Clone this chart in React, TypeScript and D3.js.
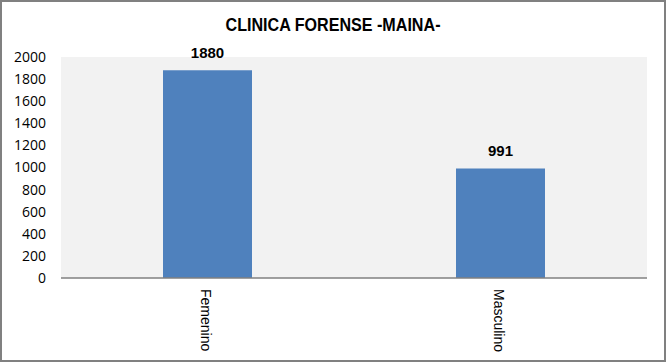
import React from "react";
import * as d3 from "d3";

const categories = ["Femenino", "Masculino"];
const values = [1880, 991];
const yTicks = [0, 200, 400, 600, 800, 1000, 1200, 1400, 1600, 1800, 2000];
const title = "CLINICA FORENSE -MAINA-";

export default function App() {
  const W = 666, H = 362;
  const left = 61, right = 647, top = 57, bottom = 278;
  const x = d3.scaleBand<string>().domain(categories).range([left, right]).paddingInner(0).paddingOuter(0);
  const y = d3.scaleLinear().domain([0, 2000]).range([bottom, top]);
  const barW = 89;
  return (
    <svg width={W} height={H} style={{ position: "absolute", left: 0, top: 0 }}>
      <rect x={0} y={0} width={W} height={H} fill="#ffffff" />
      <rect x={1} y={1} width={W - 2} height={H - 2} fill="none" stroke="#808080" strokeWidth={2} />
      <text x={333} y={31} textAnchor="middle" textLength={215} lengthAdjust="spacingAndGlyphs" fontFamily="'Liberation Sans', Arial, sans-serif" fontWeight="bold" fontSize={18} fill="#000">{title}</text>
      <rect x={left} y={top} width={right - left} height={bottom - top} fill="#F2F2F2" />
      {yTicks.map(t => (
        <text key={t} x={46} y={y(t)} dy="0.35em" textAnchor="end" fontFamily="'Open Sans', 'DejaVu Sans', sans-serif" fontSize={14} fill="#000">{t}</text>
      ))}
      {categories.map((c, i) => {
        const cx = (x(c) as number) + x.bandwidth() / 2;
        return (
          <g key={c}>
            <rect x={cx - barW / 2} y={y(values[i])} width={barW} height={bottom - y(values[i])} fill="#4F81BD" />
            <text x={cx} y={y(values[i]) - 12} textAnchor="middle" fontFamily="'Liberation Sans', Arial, sans-serif" fontWeight="bold" fontSize={15} fill="#000">{values[i]}</text>
            <text transform={`translate(${cx - 7},${bottom + 11}) rotate(90)`} textAnchor="start" fontFamily="'Liberation Sans', Arial, sans-serif" fontSize={14} fill="#000">{c}</text>
          </g>
        );
      })}
      <line x1={left} x2={right} y1={bottom} y2={bottom} stroke="#808080" strokeWidth={1.5} />
    </svg>
  );
}
